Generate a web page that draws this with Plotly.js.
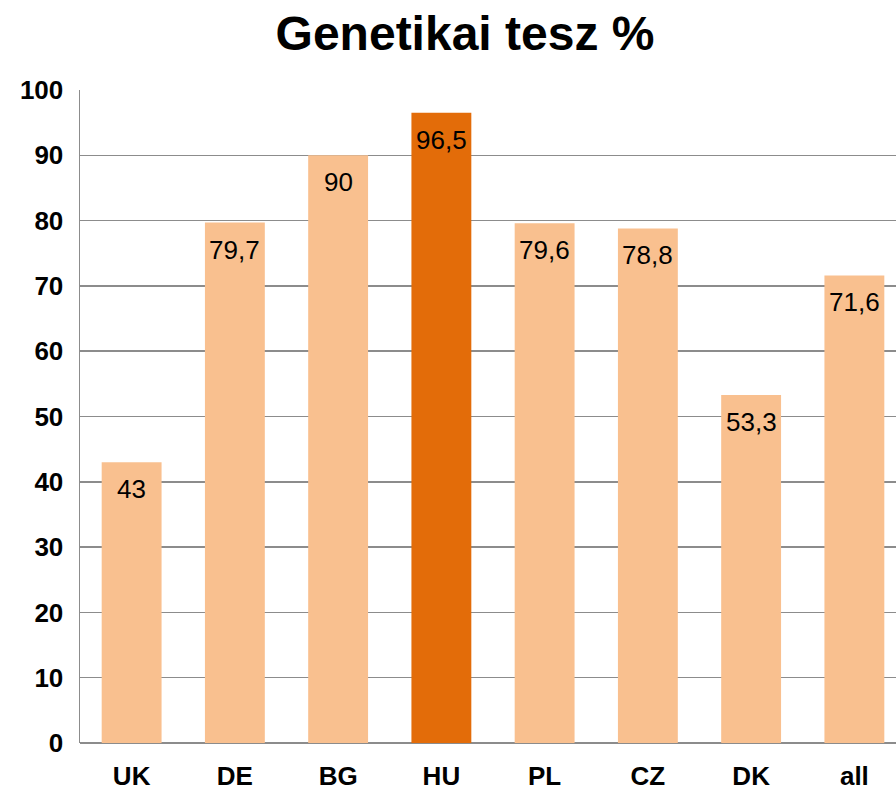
<!DOCTYPE html>
<html><head><meta charset="utf-8">
<script src="https://cdn.plot.ly/plotly-3.0.1.min.js"></script>
<style>html,body{margin:0;padding:0;overflow:hidden;width:896px;height:790px;background:#fff}</style>
</head><body>
<div id="chart"></div>
<script>
const categories = ["UK","DE","BG","HU","PL","CZ","DK","all"];
const values = [43, 79.7, 90, 96.5, 79.6, 78.8, 53.3, 71.6];
const highlight = "HU";
const titleText = "Genetikai tesz %";
const yTicks = [0,10,20,30,40,50,60,70,80,90,100];

const colors = categories.map(c => c === highlight ? "#E36C09" : "#F9C08F");
const fmt = v => String(v).replace(".", ",");

const trace = {
  type: "bar", x: categories, y: values,
  marker: {color: colors, line: {width: 0}},
  hoverinfo: "skip"
};

const annotations = categories.map((c, i) => ({
  x: c, y: values[i], xref: "x", yref: "y",
  text: fmt(values[i]), showarrow: false,
  yanchor: "top", yshift: -10,
  font: {family: "Liberation Sans, Arial, sans-serif", size: 26, color: "#000"}
}));

const W = 910;
const layout = {
  width: W, height: 790,
  margin: {l: 80, r: 4, t: 90, b: 47},
  paper_bgcolor: "#fff", plot_bgcolor: "#fff",
  title: {text: "<b>" + titleText + "</b>", xref: "container", x: 465 / W, xanchor: "center",
          yref: "container", y: 1 - 33 / 790, yanchor: "middle",
          font: {family: "Liberation Sans, Arial, sans-serif", size: 48, color: "#000"}},
  bargap: 0.42,
  showlegend: false,
  xaxis: {
    type: "category", range: [-0.5, categories.length - 0.5],
    showgrid: false, zeroline: false, showline: false,
    ticks: "", ticklabelstandoff: 15,
    tickfont: {family: "Liberation Sans, Arial, sans-serif", size: 26, color: "#000", weight: "bold"}
  },
  yaxis: {
    range: [0, 100], tickvals: yTicks, ticktext: yTicks.map(String),
    showgrid: true, gridcolor: "#8c8c8c", gridwidth: 1.5,
    zeroline: true, zerolinecolor: "#8c8c8c", zerolinewidth: 2,
    showline: true, linecolor: "#8c8c8c", linewidth: 1.5,
    ticks: "", ticklabelstandoff: 10,
    tickfont: {family: "Liberation Sans, Arial, sans-serif", size: 26, color: "#000", weight: "bold"}
  },
  annotations: annotations
};

Plotly.newPlot("chart", [trace], layout, {displayModeBar: false, staticPlot: true});
</script>
</body></html>
